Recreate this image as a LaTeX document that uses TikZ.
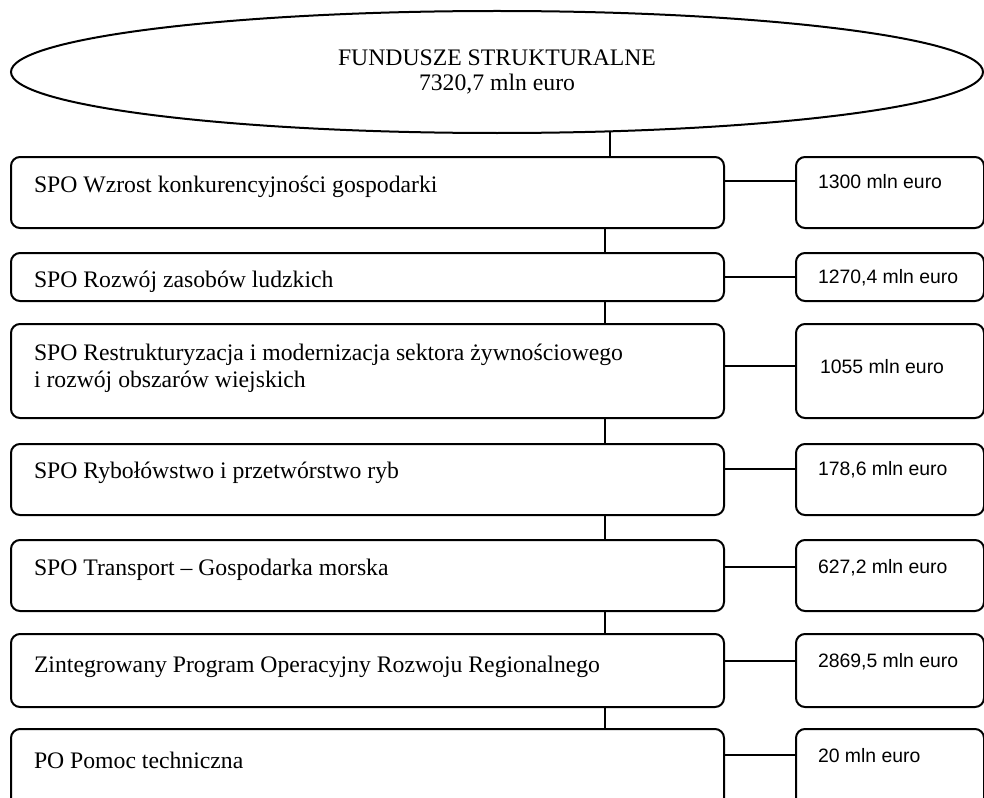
\documentclass[tikz,border=0pt]{standalone}
\usepackage{fontspec}
\setmainfont{Liberation Serif}
\newfontfamily\amountfont{Liberation Sans}
\usetikzlibrary{shapes.geometric}
\begin{document}
\begin{tikzpicture}[x=0.5pt,y=-0.5pt,
  line width=1pt,
  lbox/.style={draw, rounded corners=4.5pt, anchor=north west, inner sep=0pt, minimum width=356.5pt},
  rbox/.style={draw, rounded corners=4.5pt, anchor=north west, inner sep=0pt, minimum width=94pt},
  ltext/.style={anchor=base west, inner sep=0pt, font=\fontsize{11.85}{14}\selectfont},
  atext/.style={anchor=base west, inner sep=0pt, font=\amountfont\fontsize{9.7}{11}\selectfont},
  conn/.style={draw, line width=1pt}
]
\useasboundingbox (0,0) rectangle (984,797);
\clip (0,0) rectangle (984,797);

% top ellipse
\node[ellipse, draw, inner sep=0pt, minimum width=486pt, minimum height=61pt,
      align=center, font=\fontsize{11.85}{12.7}\selectfont] (ell) at (497,72)
      {FUNDUSZE STRUKTURALNE\\7320,7 mln euro};

% left boxes
\node[lbox, minimum height=35.5pt] (b1) at (10,156) {};
\node[lbox, minimum height=24pt]   (b2) at (10,252) {};
\node[lbox, minimum height=47pt]   (b3) at (10,323) {};
\node[lbox, minimum height=35.5pt] (b4) at (10,443) {};
\node[lbox, minimum height=35.5pt] (b5) at (10,539) {};
\node[lbox, minimum height=36.5pt] (b6) at (10,633) {};
\node[lbox, minimum height=39pt]   (b7) at (10,728) {};

% right boxes
\node[rbox, minimum height=35.5pt] (r1) at (795,156) {};
\node[rbox, minimum height=24pt]   (r2) at (795,252) {};
\node[rbox, minimum height=47pt]   (r3) at (795,323) {};
\node[rbox, minimum height=35.5pt] (r4) at (795,443) {};
\node[rbox, minimum height=35.5pt] (r5) at (795,539) {};
\node[rbox, minimum height=36.5pt] (r6) at (795,633) {};
\node[rbox, minimum height=39pt]   (r7) at (795,728) {};

% left texts
\node[ltext] (t1) at (33,192) {SPO Wzrost konkurencyjności gospodarki};
\node[ltext] (t2) at (33,287) {SPO Rozwój zasobów ludzkich};
\node[ltext] (t3a) at (33,360) {SPO Restrukturyzacja i modernizacja sektora żywnościowego};
\node[ltext] (t3b) at (33,387) {i rozwój obszarów wiejskich};
\node[ltext] (t4) at (33,478) {SPO Rybołówstwo i przetwórstwo ryb};
\node[ltext] (t5) at (33,575) {SPO Transport – Gospodarka morska};
\node[ltext] (t6) at (33,672) {Zintegrowany Program Operacyjny Rozwoju Regionalnego};
\node[ltext] (t7) at (33,768) {PO Pomoc techniczna};

% amounts
\node[atext] (a1) at (817,188) {1300 mln euro};
\node[atext] (a2) at (817,283) {1270,4 mln euro};
\node[atext] (a3) at (819,373) {1055 mln euro};
\node[atext] (a4) at (817,475) {178,6 mln euro};
\node[atext] (a5) at (817,573) {627,2 mln euro};
\node[atext] (a6) at (817,667) {2869,5 mln euro};
\node[atext] (a7) at (817,762) {20 mln euro};

% vertical trunk
\coordinate (vx) at (605,0);
\draw (ell.-28.85) -- (ell.-28.85 |- b1.north);
\draw (vx |- b1.south) -- (vx |- b2.north);
\draw (vx |- b2.south) -- (vx |- b3.north);
\draw (vx |- b3.south) -- (vx |- b4.north);
\draw (vx |- b4.south) -- (vx |- b5.north);
\draw (vx |- b5.south) -- (vx |- b6.north);
\draw (vx |- b6.south) -- (vx |- b7.north);

% horizontal connectors
\draw (b1.east |- a1.west) -- (r1.west |- a1.west);
\draw (b2.east |- a2.west) -- (r2.west |- a2.west);
\draw (b3.east |- a3.west) -- (r3.west |- a3.west);
\draw (b4.east |- a4.west) -- (r4.west |- a4.west);
\draw (b5.east |- a5.west) -- (r5.west |- a5.west);
\draw (b6.east |- a6.west) -- (r6.west |- a6.west);
\draw (b7.east |- a7.west) -- (r7.west |- a7.west);
\end{tikzpicture}
\end{document}
